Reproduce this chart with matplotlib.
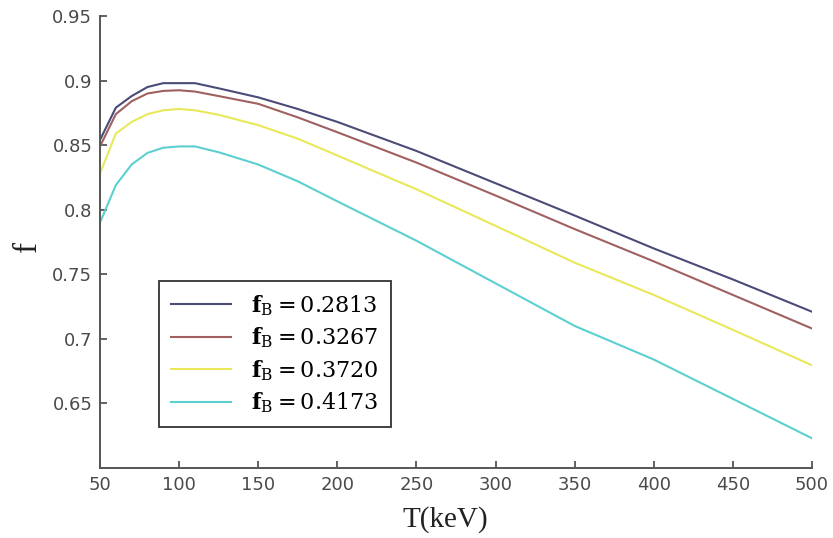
import matplotlib
matplotlib.use("Agg")
import matplotlib.pyplot as plt

plt.rcParams['mathtext.fontset'] = 'dejavuserif'

T = [50, 60, 70, 80, 90, 100, 110, 125, 150, 175, 200, 250, 300, 350, 400, 450, 500]
f_02813 = [0.854, 0.879, 0.888, 0.895, 0.898, 0.898, 0.898, 0.894, 0.887, 0.878, 0.868,
           0.8455, 0.8205, 0.7955, 0.770, 0.746, 0.721]
f_03267 = [0.849, 0.874, 0.884, 0.890, 0.892, 0.8925, 0.8915, 0.888, 0.882, 0.8715, 0.860,
           0.8365, 0.811, 0.785, 0.760, 0.734, 0.708]
f_03720 = [0.828, 0.859, 0.868, 0.874, 0.877, 0.878, 0.877, 0.8735, 0.8655, 0.855, 0.842,
           0.8158, 0.7875, 0.759, 0.734, 0.707, 0.6795]
f_04173 = [0.790, 0.819, 0.835, 0.844, 0.848, 0.849, 0.849, 0.8445, 0.835, 0.822, 0.8065,
           0.776, 0.743, 0.710, 0.684, 0.6535, 0.623]

labels = ['0.2813', '0.3267', '0.3720', '0.4173']
series = [f_02813, f_03267, f_03720, f_04173]
colors = ['#4b4b78', '#a06060', '#e8e85a', '#5ccfd0']

xticks = [50, 100, 150, 200, 250, 300, 350, 400, 450, 500]
yticks = [0.65, 0.7, 0.75, 0.8, 0.85, 0.9, 0.95]
yticklabels = ['0.65', '0.7', '0.75', '0.8', '0.85', '0.9', '0.95']

W, H = 833, 538
fig = plt.figure(figsize=(W / 100, H / 100), dpi=100)
ax = fig.add_axes([100 / W, 1 - 468 / H, 712 / W, 452 / H])

for ys, lab, c in zip(series, labels, colors):
    ax.plot(T, ys, color=c, lw=1.5, label=r'$\mathbf{f}_{\mathrm{B}}=\mathrm{' + lab + '}$')

ax.set_xlim(50, 500)
ax.set_ylim(0.6, 0.95)
ax.set_xticks(xticks)
ax.set_xticklabels([str(v) for v in xticks])
ax.set_yticks(yticks)
ax.set_yticklabels(yticklabels)

for s in ['top', 'right']:
    ax.spines[s].set_visible(False)
for s in ['left', 'bottom']:
    ax.spines[s].set_color('#555555')
    ax.spines[s].set_linewidth(1.4)

ax.tick_params(direction='in', length=5, width=1.3, color='#555555',
               labelcolor='#4a4a4a', labelsize=13, pad=5.5)
for lbl in ax.get_xticklabels() + ax.get_yticklabels():
    lbl.set_fontfamily('DejaVu Sans')

fig.text(445 / W, 1 - 520 / H, 'T(keV)', family='Liberation Serif', fontsize=21,
         ha='center', va='center', color='#222222')
fig.text(28 / W, 1 - 246 / H, 'f', family='Liberation Serif', fontsize=24,
         rotation=90, ha='center', va='center', color='#222222')

leg = ax.legend(loc='upper left', bbox_to_anchor=(59 / 712, (468 - 281) / 452),
                borderaxespad=0, frameon=True, fancybox=False, edgecolor='black',
                fontsize=16, handlelength=2.7, labelspacing=0.35, borderpad=0.55,
                handletextpad=0.9)
leg.get_frame().set_linewidth(1.3)

fig.savefig('out.png', dpi=100, facecolor='white')
